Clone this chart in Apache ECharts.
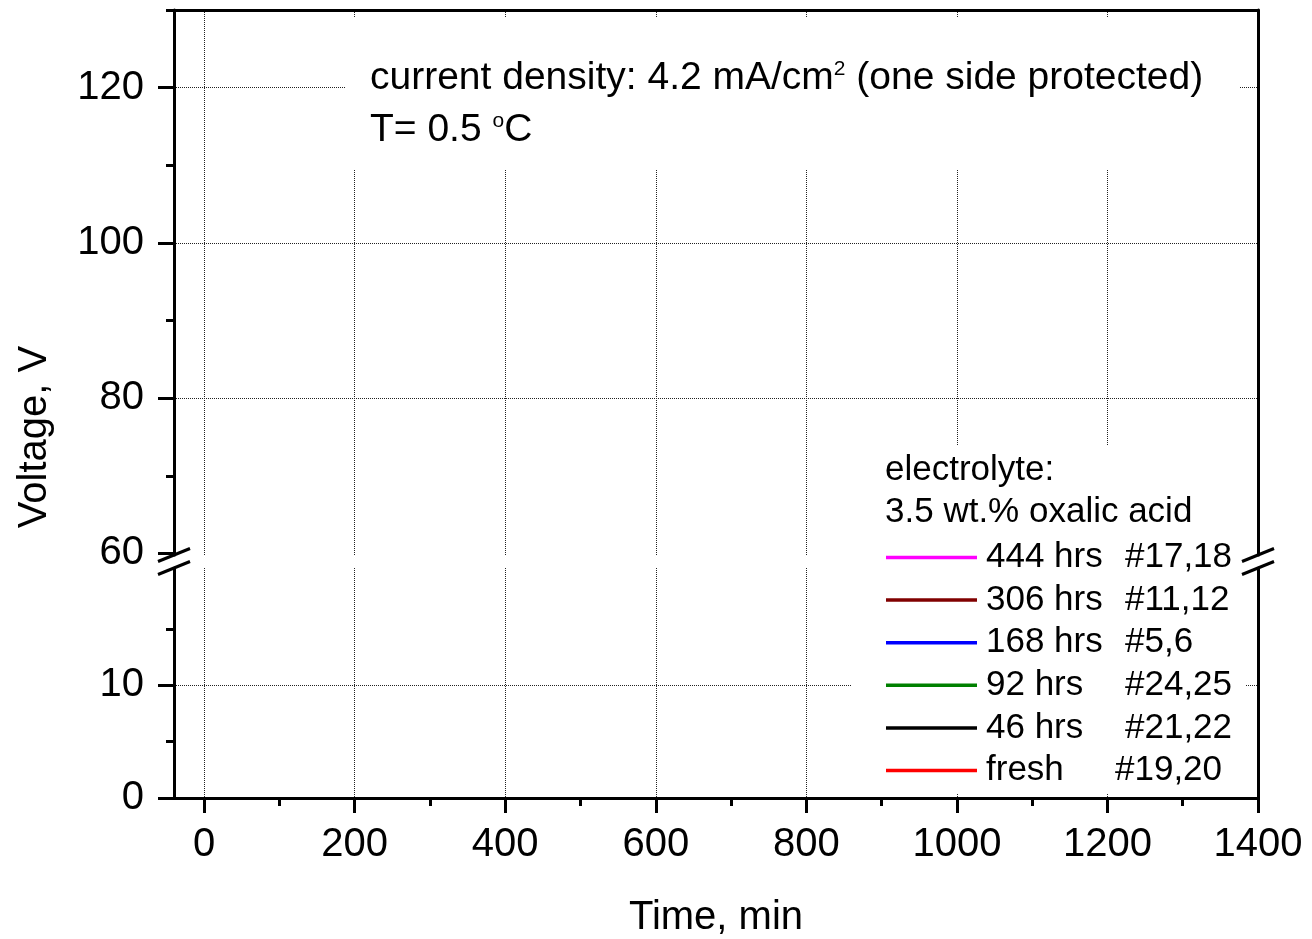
<!DOCTYPE html>
<html><head><meta charset="utf-8">
<script src="https://cdn.jsdelivr.net/npm/echarts@6/dist/echarts.min.js"></script>
<style>html,body{margin:0;padding:0;background:#fff}#c{width:1312px;height:939px}</style>
</head><body><div id="c"></div>
<script>
// ---- data ----
const seriesLabels  = ['444 hrs', '306 hrs', '168 hrs', '92 hrs', '46 hrs', 'fresh'];
const seriesSamples = ['#17,18', '#11,12', '#5,6', '#24,25', '#21,22', '#19,20'];
const seriesColors  = ['#ff00ff', '#800000', '#0000ff', '#008000', '#000000', '#ff0000'];
const seriesData    = [[], [], [], [], [], []]; // no curves are drawn in the reference
const xMajorTicks = [0, 200, 400, 600, 800, 1000, 1200, 1400];
const xMinorTicks = [100, 300, 500, 700, 900, 1100, 1300];
const yUpperMajor = [60, 80, 100, 120];
const yUpperMinor = [70, 90, 110, 130];
const yUpperGrid  = [80, 100, 120];
const yLowerMajor = [0, 10];
const yLowerMinor = [5, 15];
const yLowerGrid  = [10];
const xRange = [-40, 1400];
const yUpperRange = [59.8, 130];
const yLowerRange = [0, 20.4];
const titleLine1 = ['current density: 4.2 mA/cm', '2', ' (one side protected)'];
const titleLine2 = ['T= 0.5 ', 'o', 'C'];
const legendHead = ['electrolyte:', '3.5 wt.% oxalic acid'];

const FONT = 'Liberation Sans, Arial, Helvetica, sans-serif';
const chart = echarts.init(document.getElementById('c'), null, {renderer: 'canvas'});

const dotted = {show: true, lineStyle: {type: [1, 1], color: '#222', width: 1}};
const blackLine = {show: true, onZero: false, lineStyle: {color: '#000', width: 3}};
const noLine = {show: false, onZero: false};
const plain = v => String(v);

function xAx(grid, pos, opts) {
  return Object.assign({type: 'value', gridIndex: grid, position: pos, min: xRange[0], max: xRange[1]}, opts);
}
function yAx(grid, pos, range, opts) {
  return Object.assign({type: 'value', gridIndex: grid, position: pos, min: range[0], max: range[1]}, opts);
}

const option = {
  animation: false,
  backgroundColor: '#fff',
  textStyle: {fontFamily: FONT, color: '#000'},
  grid: [
    {left: 174, right: 54, top: 10, height: 545},
    {left: 174, right: 54, top: 568, height: 230}
  ],
  xAxis: [
    xAx(1, 'bottom', {
      name: 'Time, min', nameLocation: 'middle', nameGap: 100,
      nameTextStyle: {fontSize: 40, color: '#000', fontFamily: FONT},
      axisLine: blackLine,
      axisTick: {show: true, customValues: xMajorTicks, length: 15, lineStyle: {color: '#000', width: 3}},
      axisLabel: {customValues: xMajorTicks, formatter: plain, fontSize: 40, color: '#000', margin: 27, fontFamily: FONT},
      splitLine: dotted
    }),
    xAx(1, 'bottom', {
      axisLine: noLine,
      axisTick: {show: true, customValues: xMinorTicks, length: 8, lineStyle: {color: '#000', width: 3}},
      axisLabel: {show: false}, splitLine: {show: false}
    }),
    xAx(0, 'top', {
      axisLine: blackLine,
      axisTick: {show: false, customValues: xMajorTicks},
      axisLabel: {show: false},
      splitLine: dotted
    })
  ],
  yAxis: [
    yAx(0, 'left', yUpperRange, {
      axisLine: blackLine,
      axisTick: {show: true, customValues: yUpperMajor, length: 16, lineStyle: {color: '#000', width: 3}},
      axisLabel: {customValues: yUpperMajor, formatter: plain, fontSize: 40, color: '#000', margin: 30, fontFamily: FONT},
      splitLine: {show: false}
    }),
    yAx(0, 'left', yUpperRange, {
      axisLine: noLine,
      axisTick: {show: true, customValues: yUpperMinor, length: 8, lineStyle: {color: '#000', width: 3}},
      axisLabel: {show: false}, splitLine: {show: false}
    }),
    yAx(0, 'right', yUpperRange, {
      axisLine: blackLine,
      axisTick: {show: false, customValues: yUpperGrid},
      axisLabel: {show: false},
      splitLine: dotted
    }),
    yAx(1, 'left', yLowerRange, {
      axisLine: blackLine,
      axisTick: {show: true, customValues: yLowerMajor, length: 16, lineStyle: {color: '#000', width: 3}},
      axisLabel: {customValues: yLowerMajor, formatter: plain, fontSize: 40, color: '#000', margin: 30, fontFamily: FONT},
      splitLine: {show: false}
    }),
    yAx(1, 'left', yLowerRange, {
      axisLine: noLine,
      axisTick: {show: true, customValues: yLowerMinor, length: 8, lineStyle: {color: '#000', width: 3}},
      axisLabel: {show: false}, splitLine: {show: false}
    }),
    yAx(1, 'right', yLowerRange, {
      axisLine: blackLine,
      axisTick: {show: false, customValues: yLowerGrid},
      axisLabel: {show: false},
      splitLine: dotted
    })
  ],
  legend: {
    orient: 'vertical', left: 886, top: 540, padding: 0,
    itemWidth: 91, itemHeight: 14, itemGap: 7.6,
    icon: 'path://M0,5 L91,5 L91,8.5 L0,8.5 Z',
    selectedMode: false,
    data: seriesLabels.map((l, i) => l + ' ' + seriesSamples[i]),
    formatter: function (name) {
      const i = seriesLabels.map((l, k) => l + ' ' + seriesSamples[k]).indexOf(name);
      const st = seriesLabels[i] === 'fresh' ? 'f' : 'a';
      return '{' + st + '|' + seriesLabels[i] + '}{b|' + seriesSamples[i] + '}';
    },
    textStyle: {
      fontSize: 35, color: '#000', fontFamily: FONT, lineHeight: 35,
      rich: {
        a: {fontSize: 35, width: 139, padding: [0, 0, 0, 4], fontFamily: FONT, color: '#000'},
        f: {fontSize: 35, width: 129, padding: [0, 0, 0, 4], fontFamily: FONT, color: '#000'},
        b: {fontSize: 35, fontFamily: FONT, color: '#000'}
      }
    }
  },
  series: seriesLabels.map((l, i) => ({
    type: 'line', name: l + ' ' + seriesSamples[i],
    xAxisIndex: 0, yAxisIndex: 3,
    data: seriesData[i], symbol: 'none',
    itemStyle: {color: seriesColors[i]},
    lineStyle: {color: seriesColors[i], width: 3}
  }))
};
chart.setOption(option);

// ---- decorations: text boxes, axis title, axis-break marks ----
const pUL = chart.convertToPixel({gridIndex: 0}, [xRange[0], yUpperRange[0]]);
const pUR = chart.convertToPixel({gridIndex: 0}, [xRange[1], yUpperRange[0]]);
const pLL = chart.convertToPixel({gridIndex: 1}, [xRange[0], yLowerRange[1]]);
const pLR = chart.convertToPixel({gridIndex: 1}, [xRange[1], yLowerRange[1]]);
function slash(cx, cy) {
  return {type: 'line', z: 10, shape: {x1: cx - 16, y1: cy + 6.5, x2: cx + 16, y2: cy - 6.5},
          style: {stroke: '#000', lineWidth: 3}};
}
const supRich = {
  n: {fontSize: 39, fontFamily: FONT, fill: '#000'},
  s: {fontSize: 21, lineHeight: 18, fontFamily: FONT, fill: '#000', verticalAlign: 'top'}
};
const graphics = [
  {type: 'rect', z: 1, shape: {x: 345, y: 17, width: 895, height: 153}, style: {fill: '#fff'}},
  {type: 'rect', z: 1, shape: {x: 852, y: 445, width: 393, height: 348}, style: {fill: '#fff'}},
  {type: 'text', z: 10, x: 370, y: 78, style: {
    text: '{n|' + titleLine1[0] + '}{s|' + titleLine1[1] + '}{n|' + titleLine1[2] + '}',
    verticalAlign: 'middle', align: 'left', fontFamily: FONT, rich: supRich
  }},
  {type: 'text', z: 10, x: 370, y: 130, style: {
    text: '{n|' + titleLine2[0] + '}{s|' + titleLine2[1] + '}{n|' + titleLine2[2] + '}',
    verticalAlign: 'middle', align: 'left', fontFamily: FONT, rich: supRich
  }},
  {type: 'text', z: 10, x: 885, y: 470, style: {text: legendHead[0], fontSize: 35, fontFamily: FONT, fill: '#000', verticalAlign: 'middle'}},
  {type: 'text', z: 10, x: 885, y: 512, style: {text: legendHead[1], fontSize: 35, fontFamily: FONT, fill: '#000', verticalAlign: 'middle'}},
  {type: 'text', z: 10, x: 35, y: 437, rotation: Math.PI / 2, style: {text: 'Voltage, V', fontSize: 40, fontFamily: FONT, fill: '#000', align: 'center', verticalAlign: 'middle'}},
  slash(pUL[0], pUL[1]), slash(pLL[0], pLL[1]),
  slash(pUR[0], pUR[1]), slash(pLR[0], pLR[1])
];
chart.setOption({graphic: {elements: graphics}});
</script>
</body></html>
